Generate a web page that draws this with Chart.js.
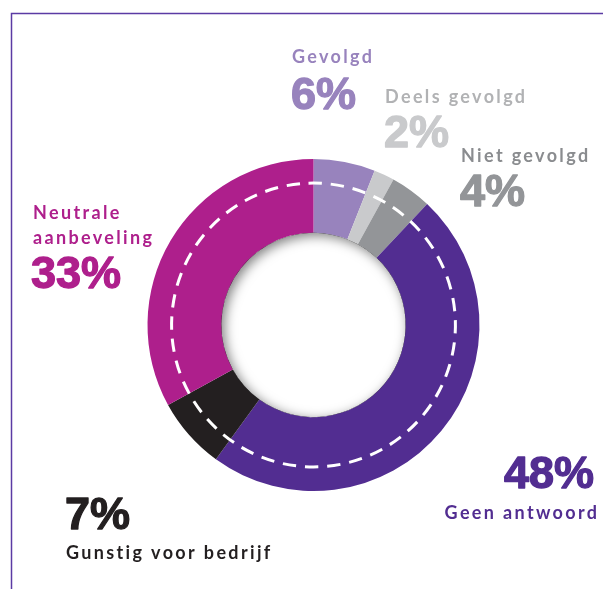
<!DOCTYPE html>
<html>
<head>
<meta charset="utf-8">
<script src="https://cdn.jsdelivr.net/npm/chart.js@4.4.1/dist/chart.umd.min.js"></script>
<style>
  html, body { margin: 0; padding: 0; background: #ffffff; }
  canvas { display: block; }
</style>
</head>
<body>
<canvas id="c" width="603" height="589"></canvas>
<script>
// Outcome of recommendations (share of cases, %), clockwise from 12 o'clock
const categories = ['Gevolgd', 'Deels gevolgd', 'Niet gevolgd', 'Geen antwoord', 'Gunstig voor bedrijf', 'Neutrale aanbeveling'];
const values = [6, 2, 4, 48, 7, 33];
const sliceColors = ['#9883bd', '#c9cacc', '#939598', '#522d91', '#231f20', '#ae1f8c'];
const nameColors  = ['#9883bd', '#b1b2b4', '#8a8c8f', '#522d91', '#231f20', '#ae1f8c'];

// Where each caption sits: name lines + big percentage
const captionLayout = [
  { align: 'left',  lines: ['Gevolgd'],                 name: [[292, 63]],             value: [291, 109] },
  { align: 'left',  lines: ['Deels gevolgd'],           name: [[385, 103]],            value: [384, 147] },
  { align: 'left',  lines: ['Niet gevolgd'],            name: [[461, 162]],            value: [460, 206] },
  { align: 'right', lines: ['Geen antwoord'],           name: [[597, 519]],            value: [594, 488] },
  { align: 'left',  lines: ['Gunstig voor bedrijf'],    name: [[66, 559]],             value: [65, 529] },
  { align: 'left',  lines: ['Neutrale', 'aanbeveling'], name: [[33, 219], [33, 244]],  value: [31, 288] }
];

const NAME_FONT = 'bold 18px Lato, "Open Sans", sans-serif';
const NAME_SPACING = 2.35;
const VALUE_FONT = 'bold 45px "Liberation Sans", Arial, sans-serif';

// Thin frame along the top and left edges
const framePlugin = {
  id: 'frame',
  beforeDraw(chart) {
    const ctx = chart.ctx;
    ctx.save();
    ctx.strokeStyle = '#5b3ba4';
    ctx.lineWidth = 1.5;
    ctx.beginPath();
    ctx.moveTo(603, 13.5);
    ctx.lineTo(11.5, 13.5);
    ctx.lineTo(11.5, 589);
    ctx.stroke();
    ctx.restore();
  }
};

// Soft shadow inside the hole and the white dashed ring
const ringDecor = {
  id: 'ringDecor',
  afterDatasetsDraw(chart) {
    const arc = chart.getDatasetMeta(0).data[0];
    if (!arc) return;
    const { x, y, innerRadius, outerRadius } = arc.getProps(['x', 'y', 'innerRadius', 'outerRadius'], true);
    const ctx = chart.ctx;

    // inner shadow in the hole
    ctx.save();
    ctx.beginPath();
    ctx.arc(x, y, innerRadius, 0, Math.PI * 2);
    ctx.clip();
    ctx.beginPath();
    ctx.arc(x, y, innerRadius + 40, 0, Math.PI * 2);
    ctx.arc(x, y, innerRadius, 0, Math.PI * 2, true);
    ctx.shadowColor = 'rgba(0,0,0,0.5)';
    ctx.shadowBlur = 12;
    ctx.shadowOffsetX = 3;
    ctx.shadowOffsetY = 3;
    ctx.fillStyle = '#000';
    ctx.fill();
    ctx.restore();

    // dashed white circle
    const r = outerRadius * 0.855;
    const n = 40;
    const period = 2 * Math.PI * r / n;
    const dash = period * 0.6;
    const gap = period - dash;
    ctx.save();
    ctx.strokeStyle = '#ffffff';
    ctx.lineWidth = 3;
    ctx.setLineDash([dash, gap]);
    ctx.beginPath();
    const start = -Math.PI / 2 - 5 / r;
    ctx.arc(x, y, r, start, start + Math.PI * 2);
    ctx.stroke();
    ctx.restore();
  }
};

// Category names and percentages
const captionPlugin = {
  id: 'captions',
  afterDraw(chart) {
    const ctx = chart.ctx;
    const ds = chart.data.datasets[0];
    captionLayout.forEach((c, i) => {
      ctx.save();
      ctx.textAlign = c.align;
      ctx.textBaseline = 'alphabetic';
      ctx.fillStyle = nameColors[i];
      ctx.font = NAME_FONT;
      ctx.letterSpacing = NAME_SPACING + 'px';
      c.lines.forEach((line, k) => {
        let [tx, ty] = c.name[k];
        if (c.align === 'right') tx += NAME_SPACING;
        ctx.fillText(line, tx, ty);
      });
      ctx.letterSpacing = '0px';
      ctx.font = VALUE_FONT;
      ctx.fillStyle = sliceColors[i];
      ctx.strokeStyle = sliceColors[i];
      ctx.lineWidth = 1.3;
      ctx.lineJoin = 'round';
      const label = ds.data[i] + '%';
      ctx.fillText(label, c.value[0], c.value[1]);
      ctx.strokeText(label, c.value[0], c.value[1]);
      ctx.restore();
    });
  }
};

new Chart(document.getElementById('c'), {
  type: 'doughnut',
  data: {
    labels: categories,
    datasets: [{
      data: values,
      backgroundColor: sliceColors,
      borderWidth: 0
    }]
  },
  options: {
    responsive: false,
    animation: false,
    cutout: '55.5%',
    layout: { padding: { left: 147, right: 123, top: 159, bottom: 98 } },
    plugins: {
      legend: { display: false },
      tooltip: { enabled: false }
    }
  },
  plugins: [framePlugin, ringDecor, captionPlugin]
});
</script>
</body>
</html>
